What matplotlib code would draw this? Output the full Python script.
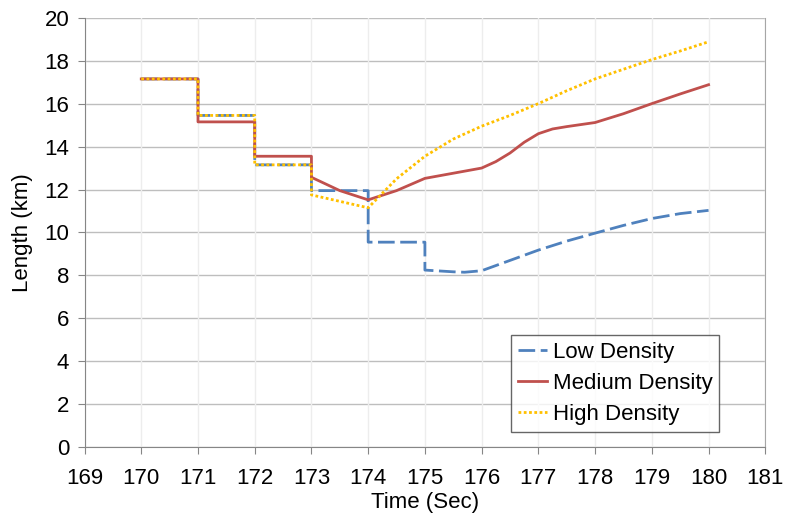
import matplotlib
matplotlib.use("Agg")
import matplotlib.pyplot as plt

plt.rcParams['font.family'] = ['Liberation Sans', 'DejaVu Sans']

# values (duplicate x values give the vertical steps)
low_x = [170, 171, 171, 172, 172, 173, 173, 174, 174, 175, 175, 175.5, 175.7, 176,
         176.5, 177, 177.5, 178, 178.5, 179, 179.5, 180]
low_y = [17.15, 17.15, 15.45, 15.45, 13.15, 13.15, 11.95, 11.95, 9.55, 9.55, 8.25, 8.17, 8.15, 8.22,
         8.7, 9.18, 9.6, 9.97, 10.33, 10.65, 10.88, 11.03]

med_x = [170, 171, 171, 172, 172, 173, 173, 173.5, 174, 174.5, 175, 175.5, 176, 176.25,
         176.5, 176.75, 177, 177.25, 177.5, 178, 178.5, 179, 179.5, 180]
med_y = [17.15, 17.15, 15.15, 15.15, 13.55, 13.55, 12.57, 11.95, 11.52, 11.95, 12.52, 12.76, 13.0, 13.3,
         13.7, 14.2, 14.6, 14.82, 14.93, 15.12, 15.53, 16.0, 16.45, 16.88]

high_x = [170, 171, 171, 172, 172, 173, 173, 174, 174.5, 175, 175.5, 176,
          176.5, 177, 177.5, 178, 178.5, 179, 179.5, 180]
high_y = [17.15, 17.15, 15.45, 15.45, 13.15, 13.15, 11.75, 11.15, 12.5, 13.55, 14.35, 14.95,
          15.45, 16.0, 16.6, 17.15, 17.6, 18.05, 18.45, 18.88]

x_ticks = list(range(169, 182))
y_ticks = list(range(0, 21, 2))

fig = plt.figure(figsize=(7.87, 5.24), dpi=100)
ax = fig.add_axes([0.1074, 0.1464, 0.865, 0.8198])

# gridlines
for yv in y_ticks:
    ax.axhline(yv, color='#BEBEBE', lw=1.0, zorder=0)
for xv in x_ticks:
    ax.axvline(xv, color='#EDEDED', lw=1.0, zorder=0)

ax.plot(low_x, low_y, color='#4F81BD', lw=2.0, linestyle=(0, (6, 2)), label='Low Density', zorder=3)
ax.plot(med_x, med_y, color='#C0504D', lw=2.0, label='Medium Density', zorder=4)
ax.plot(high_x, high_y, color='#FFC000', lw=2.0, linestyle=(0, (1, 0.9)), label='High Density', zorder=5)

ax.set_xlim(169, 181)
ax.set_ylim(0, 20)
ax.set_xticks(x_ticks)
ax.set_yticks(y_ticks)
ax.tick_params(axis='both', labelsize=16, direction='out', length=5, color='#868686', pad=6)
ax.tick_params(axis='x', pad=10)

ax.spines['top'].set_visible(False)
ax.spines['left'].set_color('#868686')
ax.spines['bottom'].set_color('#868686')
ax.spines['right'].set_color('#A6A6A6')

ax.set_xlabel('Time (Sec)', fontsize=16, labelpad=2)
ax.set_ylabel('Length (km)', fontsize=16, labelpad=8)

leg = ax.legend(loc='lower right', bbox_to_anchor=(0.932, 0.036), borderaxespad=0,
                fontsize=16, frameon=True, fancybox=False, handlelength=1.3,
                handletextpad=0.25, labelspacing=0.45, borderpad=0.3)
leg.get_frame().set_edgecolor('#404040')
leg.get_frame().set_linewidth(1.0)

fig.savefig('out.png', dpi=100)
